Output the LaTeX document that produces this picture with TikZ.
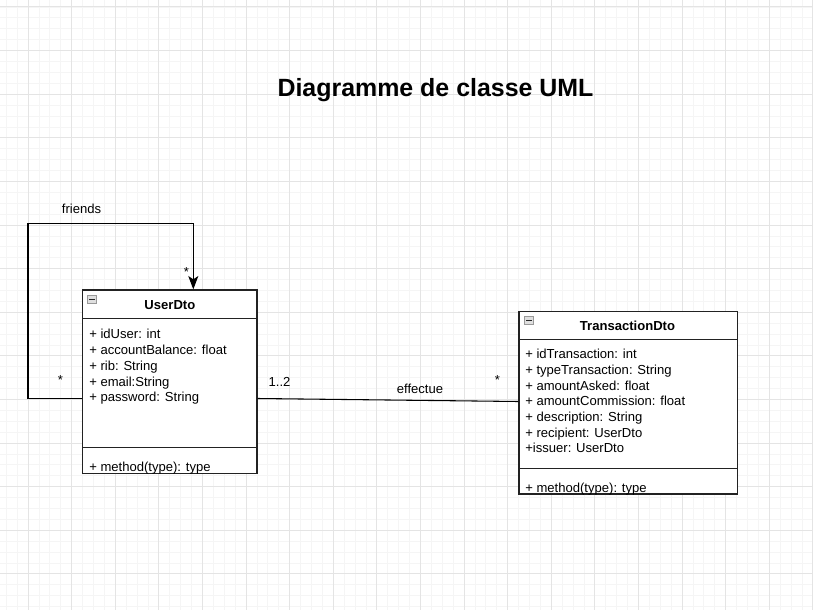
\documentclass[tikz,border=0pt]{standalone}
\usepackage{fontspec}
\setmainfont{Liberation Sans}
\usetikzlibrary{arrows.meta}
\definecolor{gridmajor}{HTML}{E4E4E4}
\definecolor{gridminor}{HTML}{F5F5F5}
\definecolor{boxline}{HTML}{222222}
\begin{document}
\begin{tikzpicture}[x=0.75pt,y=-0.75pt,
  classbox/.style={draw=boxline, line width=1pt, fill=white, inner sep=0pt},
  sepline/.style={draw=boxline, line width=0.9pt},
  attr/.style={anchor=base west, inner sep=0pt, font=\fontsize{9.8pt}{11pt}\selectfont},
  lbl/.style={inner sep=0pt, font=\fontsize{9.8pt}{11pt}\selectfont},
  ctitle/.style={inner sep=0pt, font=\fontsize{9.8pt}{11pt}\selectfont\bfseries},
  assoc/.style={draw=black, line width=0.8pt},
  icon/.style={draw=gray!80, fill=gray!25, line width=0.5pt}]
\useasboundingbox (0,0) rectangle (813,610);
\fill[white] (0,0) rectangle (813,610);
% grid
\foreach \i in {0,...,76} {
  \draw[gridminor, line width=0.6pt] ({-15.6+\i*10.9},0) -- ({-15.6+\i*10.9},610);
}
\foreach \i in {0,...,57} {
  \draw[gridminor, line width=0.6pt] (0,{-3.9+\i*10.9}) -- (813,{-3.9+\i*10.9});
}
\foreach \i in {0,...,19} {
  \draw[gridmajor, line width=0.75pt] ({-15.6+\i*43.6},0) -- ({-15.6+\i*43.6},610);
}
\foreach \i in {0,...,14} {
  \draw[gridmajor, line width=0.75pt] (0,{7+\i*43.6}) -- (813,{7+\i*43.6});
}
% title
\node[inner sep=0pt, font=\fontsize{18.7pt}{20pt}\selectfont\bfseries] (title) at (435.5,90) {Diagramme de classe UML};

% UserDto
\node[classbox, minimum width=130.7pt, minimum height=137.5pt] (user) at (169.9,381.7) {};
\draw[sepline] (user.west |- 0,318.3) -- (user.east |- 0,318.3);
\draw[sepline] (user.west |- 0,447.3) -- (user.east |- 0,447.3);
\node[ctitle] (usertitle) at (169.9,305.2) {UserDto};
\draw[icon] (87.5,295.5) rectangle (96.5,303.5);
\draw[gray!30!black, line width=0.6pt] (89.3,299.5) -- (94.7,299.5);
\node[attr] (u1) at (89,338) {+ idUser: int};
\node[attr] (u2) at (89,354) {+ accountBalance: float};
\node[attr] (u3) at (89,370) {+ rib: String};
\node[attr] (u4) at (89,386) {+ email:String};
\node[attr] (u5) at (89,401.5) {+ password: String};
\node[attr] (um) at (89,471.5) {+ method(type): type};

% TransactionDto
\node[classbox, minimum width=163.7pt, minimum height=136.7pt] (trans) at (628.2,402.9) {};
\draw[sepline] (trans.west |- 0,339.3) -- (trans.east |- 0,339.3);
\draw[sepline] (trans.west |- 0,468.3) -- (trans.east |- 0,468.3);
\node[ctitle] (transtitle) at (627.5,326) {TransactionDto};
\draw[icon] (524.5,316.5) rectangle (533.5,324.5);
\draw[gray!30!black, line width=0.6pt] (526.3,320.5) -- (531.7,320.5);
\node[attr] (t1) at (525,358.5) {+ idTransaction: int};
\node[attr] (t2) at (525,374.5) {+ typeTransaction: String};
\node[attr] (t3) at (525,390) {+ amountAsked: float};
\node[attr] (t4) at (525,405.5) {+ amountCommission: float};
\node[attr] (t5) at (525,421.5) {+ description: String};
\node[attr] (t6) at (525,437) {+ recipient: UserDto};
\node[attr] (t7) at (525,452.5) {+issuer: UserDto};
\node[attr] (tm) at (525,492) {+ method(type): type};

% friends self association
\coordinate (fa) at (28,398.3);
\coordinate (fb) at (28,223.3);
\coordinate (fc) at (193.3,223.3);
\draw[assoc, -{Stealth[length=10pt,width=7.5pt,inset=2.5pt]}]
  (user.west |- fa) -- (fa) -- (fb) -- (fc) -- (fc |- user.north);
\node[lbl] (friends) at (81.5,208.5) {friends};
\node[lbl] (star1) at (186.5,272) {*};
\node[lbl] (star2) at (60.5,380.5) {*};

% effectue association
\coordinate (ea) at (0,398.5);
\coordinate (eb) at (0,401.5);
\draw[assoc] (user.east |- ea) -- (trans.west |- eb);
\node[lbl] (mult1) at (279.5,381.5) {1..2};
\node[lbl] (effectue) at (420,388.5) {effectue};
\node[lbl] (star3) at (497.5,380.5) {*};
\end{tikzpicture}
\end{document}
